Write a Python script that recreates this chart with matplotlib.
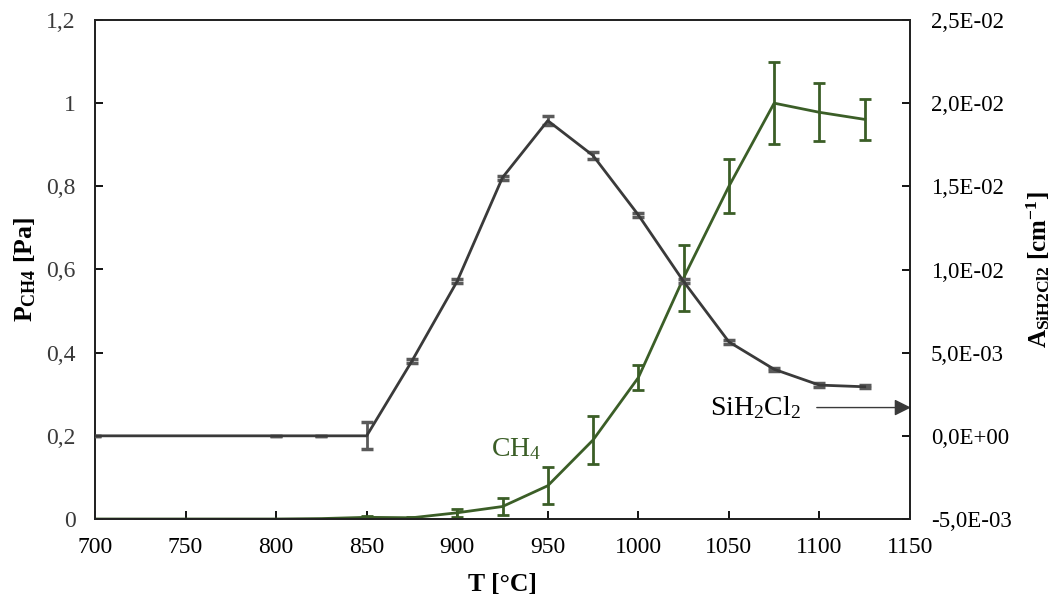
import matplotlib
matplotlib.use("Agg")
import matplotlib.pyplot as plt
from matplotlib.ticker import FuncFormatter, MultipleLocator

plt.rcParams['font.family'] = ['Liberation Serif', 'DejaVu Serif']
plt.rcParams['mathtext.fontset'] = 'custom'
plt.rcParams['mathtext.rm'] = 'Liberation Serif'
plt.rcParams['mathtext.it'] = 'Liberation Serif:italic'
plt.rcParams['mathtext.bf'] = 'Liberation Serif:bold'

# Data
T_ch4 = [700, 725, 750, 775, 800, 825, 850, 875, 900, 925, 950, 975, 1000, 1025, 1050, 1075, 1100, 1125]
p_ch4 = [0, 0, 0, 0, 0, 0.001, 0.004, 0.003, 0.015, 0.03, 0.08, 0.19, 0.34, 0.58, 0.80, 1.0, 0.978, 0.961]
p_ch4_err = [0, 0, 0, 0, 0, 0, 0.003, 0.002, 0.01, 0.02, 0.045, 0.057, 0.03, 0.08, 0.065, 0.098, 0.07, 0.05]

T_sih = [700, 800, 825, 850, 875, 900, 925, 950, 975, 1000, 1025, 1050, 1075, 1100, 1125]
a_sih = [0.0, 0.0, 0.0, 0.0, 0.0045, 0.0093, 0.01553, 0.01895, 0.01685, 0.01328, 0.00928, 0.00565, 0.0040, 0.00305, 0.00295]
a_sih_err = [0, 0, 0, 0.00082, 0.00012, 0.00012, 0.00012, 0.00025, 0.0002, 0.00012, 0.00012, 0.0001, 0.0001, 0.0001, 0.0001]

green = '#3b5e27'
gray = '#3a3a3a'
errgray = '#5a5a5a'

fig = plt.figure(figsize=(10.58, 6.01), dpi=100)
ax = fig.add_axes([95/1058, 1-519/601, (910-95)/1058, (519-20)/601])
ax2 = ax.twinx()

ax.errorbar(T_ch4, p_ch4, yerr=p_ch4_err, color=green, lw=2, ecolor=green,
            elinewidth=2, capsize=4.5, capthick=2, zorder=2)
ax2.errorbar(T_sih, a_sih, yerr=a_sih_err, color=gray, lw=2, ecolor=errgray,
             elinewidth=2, capsize=4.5, capthick=2.5, zorder=3)

ax.set_xlim(700, 1150)
ax.set_ylim(0, 1.2)
ax2.set_ylim(-0.005, 0.025)
ax.xaxis.set_major_locator(MultipleLocator(50))
ax.yaxis.set_major_locator(MultipleLocator(0.2))
ax2.yaxis.set_major_locator(MultipleLocator(0.005))

def fmt_left(v, pos):
    s = f"{v:.1f}".rstrip('0').rstrip('.')
    return s.replace('.', ',')

def fmt_right(v, pos):
    s = f"{v:.1E}"
    mant, exp = s.split('E')
    sign = exp[0]
    e = int(exp[1:])
    return f"{mant.replace('.', ',')}E{sign}{e:02d}"

ax.yaxis.set_major_formatter(FuncFormatter(fmt_left))
ax2.yaxis.set_major_formatter(FuncFormatter(fmt_right))

for a in (ax, ax2):
    a.tick_params(direction='in', length=6, width=1.3, labelsize=17, colors='black')
    for sp in a.spines.values():
        sp.set_linewidth(1.3)
        sp.set_color('#222222')
ax.tick_params(axis='y', pad=14, labelcolor='#3a3a3a')
ax.tick_params(axis='x', pad=13)
ax2.tick_params(axis='y', pad=15, labelsize=16.5)

ax.set_xlabel('T [°C]', fontsize=18.5, fontweight='bold', labelpad=11)
ax.set_ylabel(r'$\mathbf{P_{CH4}}$ [Pa]', fontsize=18.5, fontweight='bold', labelpad=6)
ax2.set_ylabel(r'$\mathbf{A_{SiH2Cl2}}$ [cm$^{\mathbf{-1}}$]', fontsize=18, fontweight='bold', labelpad=9, rotation=90)

ax.text(918.6, 0.152, r'CH$_4$', color=green, fontsize=20, ha='left', va='baseline')
ax.text(1039.6, 0.25, r'SiH$_2$Cl$_2$', color='black', fontsize=20, ha='left', va='baseline')
ax.annotate('', xy=(1152, 0.268), xytext=(1097, 0.268), xycoords='data',
            arrowprops=dict(arrowstyle='-|>', color='#3a3a3a', lw=1, mutation_scale=25),
            annotation_clip=False)

fig.savefig('out.png', dpi=100)
